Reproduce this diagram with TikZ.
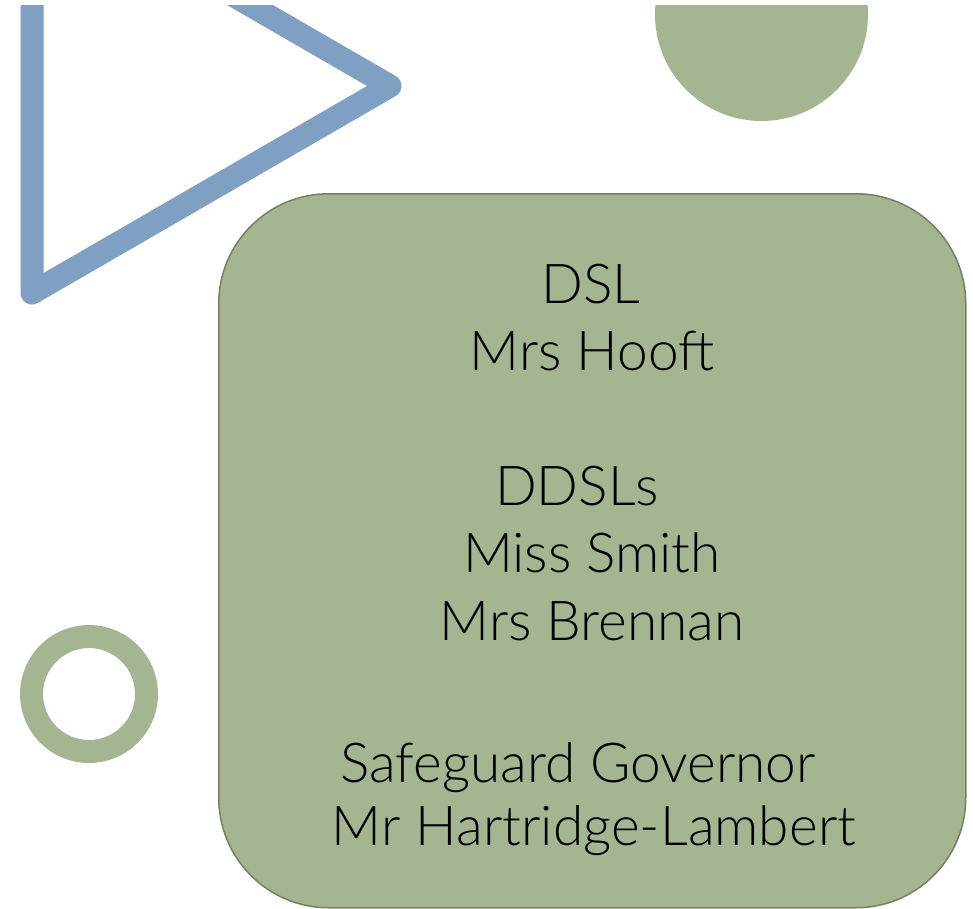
\documentclass[tikz,border=0pt]{standalone}
\usepackage{fontspec}
\setmainfont{Lato}[UprightFont={* Light}]
\definecolor{sage}{RGB}{165,181,146}
\definecolor{sagedark}{RGB}{115,129,95}
\definecolor{steel}{RGB}{127,159,195}
\tikzset{
  lbl/.style={anchor=base, inner sep=0pt, text=black, font=\fontsize{55}{60}\selectfont},
}
\begin{document}
\begin{tikzpicture}[x=1pt,y=-1pt]
\useasboundingbox (0,0) rectangle (973,908);
\begin{scope}
\clip (0,5) rectangle (973,908);
\draw[steel, line width=23pt, line join=round, line cap=round] (32,-121) -- (32,293) -- (390,86) -- cycle;
\fill[sage] (761.5,14.5) circle[radius=106.5];
\end{scope}
\draw[sage, line width=23pt] (89,694) circle[radius=57.5];
\node[draw=sagedark, fill=sage, line width=1.5pt, rounded corners=110pt, minimum width=747pt, minimum height=714pt, inner sep=0pt, anchor=north west] (box) at (218,193) {};
\node[lbl] (t1) at (591,303) {DSL};
\node[lbl] (t2) at (592,370) {Mrs Hooft};
\node[lbl] (t3) at (577,505) {DDSLs};
\node[lbl] (t4) at (592,572) {Miss Smith};
\node[lbl] (t5) at (592,640) {Mrs Brennan};
\node[lbl] (t6) at (578,782) {Safeguard Governor};
\node[lbl] (t7) at (594,845) {Mr Hartridge-Lambert};
\end{tikzpicture}
\end{document}
